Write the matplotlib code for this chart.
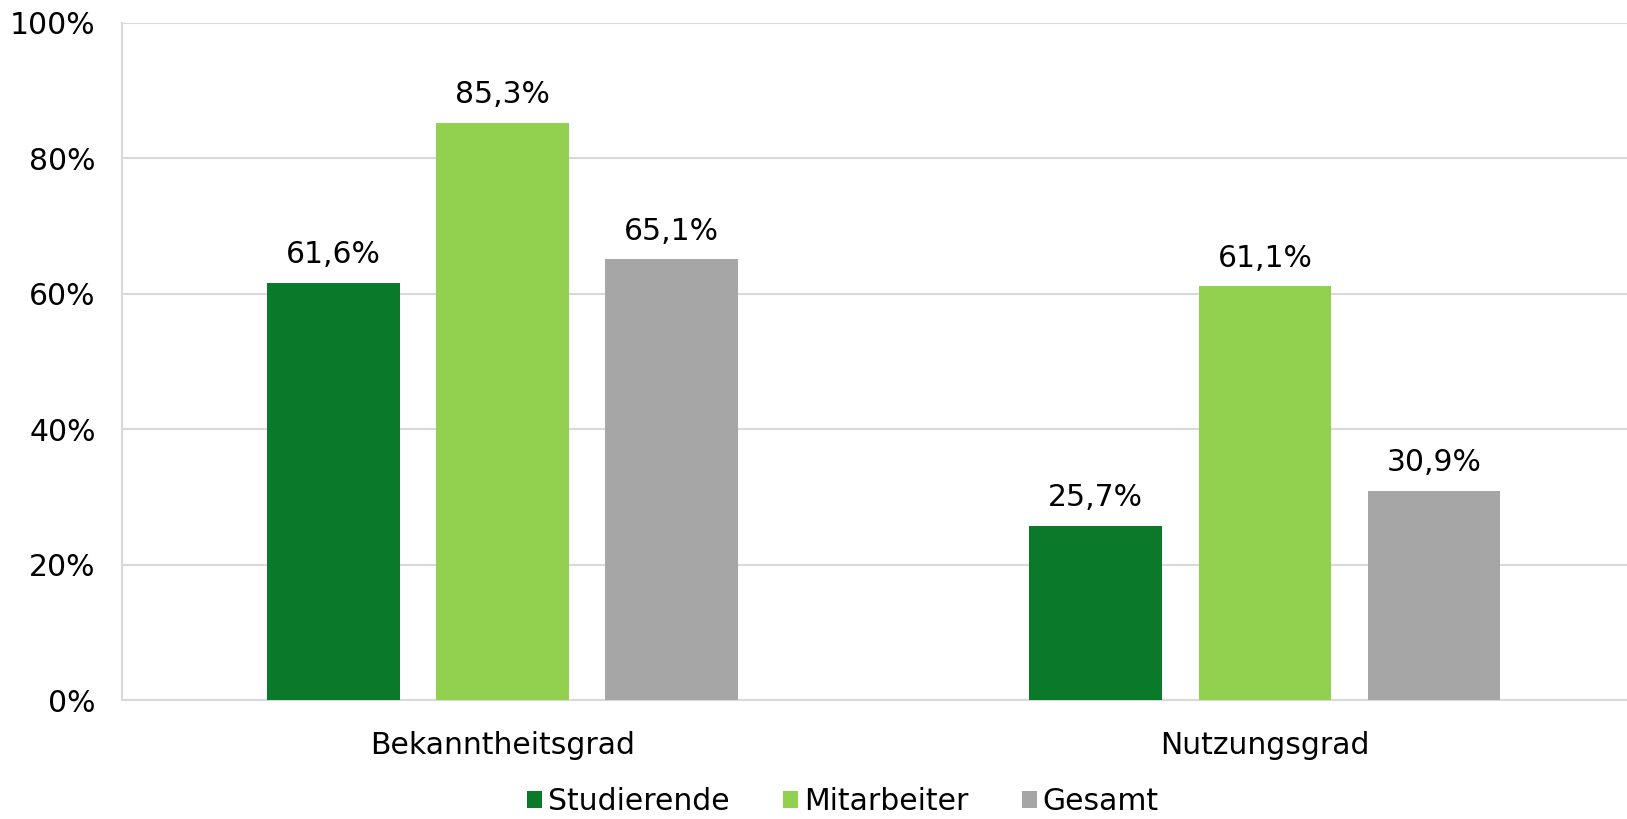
import matplotlib.pyplot as plt
import numpy as np

plt.rcParams['font.family'] = ['DejaVu Sans']

kategorien = ['Bekanntheitsgrad', 'Nutzungsgrad']
serien = ['Studierende', 'Mitarbeiter', 'Gesamt']
werte = {
    'Studierende': [61.6, 25.7],
    'Mitarbeiter': [85.3, 61.1],
    'Gesamt': [65.1, 30.9],
}
farben = ['#0A7A2A', '#92D050', '#A6A6A6']

fig = plt.figure(figsize=(16.27, 8.19), dpi=100)
ax = fig.add_axes([122 / 1627, 1 - 700 / 819, 1 - 122 / 1627, 677 / 819])

fs = 21.5
x = np.arange(len(kategorien))
breite = 0.174
abstand = 0.222
for i, (name, farbe) in enumerate(zip(serien, farben)):
    pos = x + (i - 1) * abstand
    bars = ax.bar(pos, werte[name], breite, color=farbe, label=name, zorder=3)
    for b, v in zip(bars, werte[name]):
        ax.text(b.get_x() + b.get_width() / 2, v + 2.0, f'{v:.1f}%'.replace('.', ','),
                ha='center', va='bottom', fontsize=fs)

ax.set_xlim(-0.499, 1.475)
ax.set_ylim(0, 100)
ax.set_yticks(range(0, 101, 20))
ax.set_yticklabels([f'{t}%' for t in range(0, 101, 20)], fontsize=fs)
ax.set_xticks(x)
ax.set_xticklabels(kategorien, fontsize=fs)
ax.tick_params(length=0)
ax.tick_params(axis='y', pad=19)
ax.tick_params(axis='x', pad=22)
ax.grid(axis='y', color='#D9D9D9', lw=1.5, zorder=0)
for s in ['top', 'right']:
    ax.spines[s].set_visible(False)
for s in ['left', 'bottom']:
    ax.spines[s].set_color('#D9D9D9')
    ax.spines[s].set_linewidth(1.5)

fig.legend(loc='center', bbox_to_anchor=(0.518, 1 - 802 / 819), ncol=3, frameon=False,
           fontsize=fs, handlelength=0.5, handleheight=0.5, handletextpad=0.2,
           columnspacing=1.8)

fig.savefig('out.png', dpi=100)
